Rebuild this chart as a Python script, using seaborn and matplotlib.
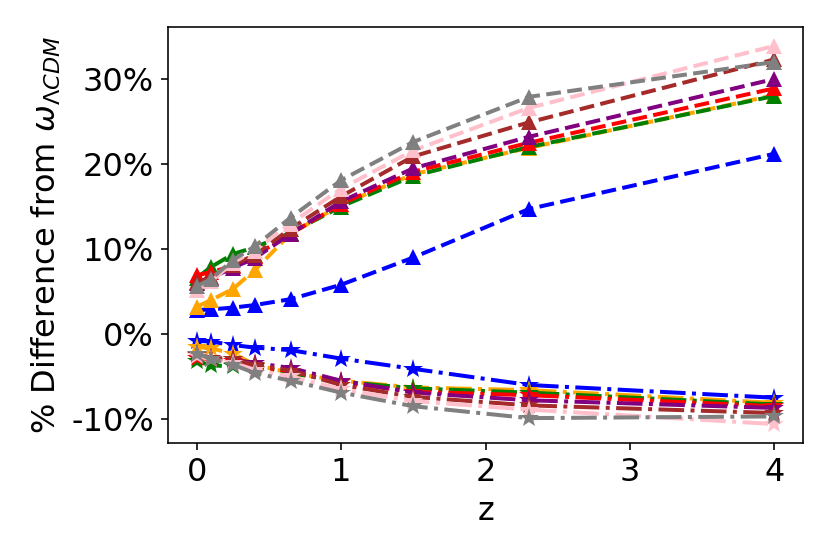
import numpy as np
import pandas as pd
import matplotlib
matplotlib.use("Agg")
import matplotlib.pyplot as plt
import seaborn as sns
from matplotlib.ticker import FuncFormatter

z = [0, 0.1, 0.25, 0.4, 0.65, 1, 1.5, 2.3, 4]
colors = ["blue", "orange", "green", "red", "purple", "brown", "pink", "gray"]

upper_blue = [2.8, 2.9, 3.1, 3.4, 4.1, 5.8, 9.0, 14.7, 21.2]
upper_orange = [3.2, 4.0, 5.3, 7.5, 11.8, 15.2, 18.8, 21.9, 28.1]
upper_green = [6.6, 7.9, 9.4, 10.2, 11.9, 15.0, 18.6, 22.0, 28.0]
upper_red = [6.9, 7.3, 8.0, 9.2, 11.8, 15.3, 19.1, 22.5, 28.9]
upper_purple = [6.0, 6.6, 7.8, 8.9, 11.8, 15.6, 19.5, 23.2, 30.0]
upper_brown = [6.1, 6.7, 8.1, 9.3, 12.4, 16.2, 20.9, 24.9, 32.3]
upper_pink = [5.2, 6.2, 8.4, 9.8, 13.0, 17.1, 21.6, 26.6, 33.9]
upper_gray = [5.6, 6.5, 8.7, 10.3, 13.7, 18.1, 22.6, 27.9, 32.0]

lower_blue = [-0.8, -0.9, -1.3, -1.6, -1.9, -2.9, -4.1, -6.0, -7.5]
lower_orange = [-1.5, -1.7, -2.3, -3.6, -4.6, -5.5, -6.3, -6.6, -8.1]
lower_green = [-3.2, -3.7, -3.8, -3.8, -4.6, -5.6, -6.4, -6.9, -8.3]
lower_red = [-2.8, -3.0, -3.2, -3.8, -4.4, -5.7, -6.8, -7.2, -8.5]
lower_purple = [-2.4, -2.8, -3.0, -3.4, -4.0, -5.5, -6.9, -7.8, -8.7]
lower_brown = [-2.5, -2.8, -3.0, -3.6, -4.3, -6.0, -7.4, -8.4, -9.3]
lower_pink = [-2.6, -3.0, -3.4, -4.2, -5.0, -6.5, -7.9, -8.9, -10.6]
lower_gray = [-2.3, -2.9, -3.6, -4.6, -5.5, -6.9, -8.5, -9.9, -9.7]

upper = [upper_blue, upper_orange, upper_green, upper_red,
         upper_purple, upper_brown, upper_pink, upper_gray]
lower = [lower_blue, lower_orange, lower_green, lower_red,
         lower_purple, lower_brown, lower_pink, lower_gray]

sns.set_style("ticks")
plt.rcParams["font.family"] = ["DejaVu Sans"]
plt.rcParams["text.color"] = "black"
plt.rcParams["axes.labelcolor"] = "black"
plt.rcParams["xtick.color"] = "black"
plt.rcParams["ytick.color"] = "black"

fig, ax = plt.subplots(figsize=(830 / 144, 554 / 144), dpi=144)
fig.subplots_adjust(left=0.2024, right=0.9675, top=0.9513, bottom=0.2004)

for c, u, l in zip(colors, upper, lower):
    df_u = pd.DataFrame({"z": z, "v": u})
    df_l = pd.DataFrame({"z": z, "v": l})
    sns.lineplot(data=df_u, x="z", y="v", ax=ax, color=c, marker="^",
                 linestyle="--", markersize=8, markeredgewidth=0, lw=2)
    sns.lineplot(data=df_l, x="z", y="v", ax=ax, color=c, marker="*",
                 linestyle="-.", markersize=10, markeredgewidth=0, lw=2)

ax.set_xticks([0, 1, 2, 3, 4])
ax.set_yticks([-10, 0, 10, 20, 30])
ax.yaxis.set_major_formatter(FuncFormatter(lambda v, p: f"{v:.0f}%"))
ax.tick_params(labelsize=16, length=3.5, width=0.8, colors="black")
ax.set_xlabel("z", fontsize=16)
ax.set_ylabel(r"% Difference from $\omega_{\mathit{\Lambda CDM}}$", fontsize=16)
for s in ax.spines.values():
    s.set_linewidth(0.8)
    s.set_color("black")
ax.margins(x=0.05, y=0.05)

fig.savefig("out.png", dpi=144)
